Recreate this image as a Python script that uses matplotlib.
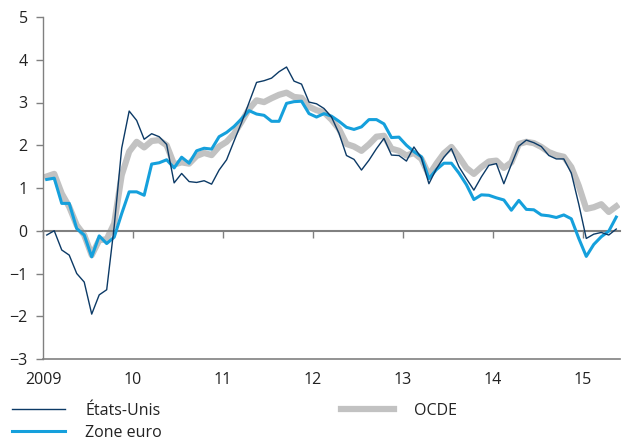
import numpy as np
import matplotlib
matplotlib.use("Agg")
import matplotlib.pyplot as plt
from matplotlib.lines import Line2D

plt.rcParams['font.family'] = ['Open Sans', 'DejaVu Sans']

# Monthly values, Jan 2009 .. May 2015
etats_unis = [
    -0.10, 0.00, -0.45, -0.57, -1.00, -1.20, -1.95, -1.50, -1.38, 0.10,
    1.93, 2.80, 2.58, 2.14, 2.27, 2.20, 2.02, 1.12, 1.34, 1.15,
    1.13, 1.17, 1.09, 1.42, 1.66, 2.10, 2.53, 3.00, 3.47, 3.51,
    3.57, 3.72, 3.83, 3.50, 3.43, 3.01, 2.97, 2.86, 2.66, 2.28,
    1.76, 1.67, 1.42, 1.65, 1.92, 2.16, 1.77, 1.76, 1.63, 1.96,
    1.70, 1.10, 1.45, 1.72, 1.92, 1.50, 1.22, 0.95, 1.26, 1.53,
    1.57, 1.10, 1.55, 1.98, 2.12, 2.06, 1.97, 1.76, 1.68, 1.68,
    1.35, 0.62, -0.18, -0.08, -0.04, -0.10, 0.04]

zone_euro = [
    1.20, 1.23, 0.64, 0.64, 0.05, -0.10, -0.61, -0.12, -0.30, -0.15,
    0.40, 0.91, 0.91, 0.83, 1.56, 1.59, 1.66, 1.47, 1.72, 1.58,
    1.87, 1.93, 1.91, 2.20, 2.30, 2.44, 2.62, 2.81, 2.73, 2.70,
    2.56, 2.56, 2.98, 3.02, 3.03, 2.74, 2.66, 2.74, 2.68, 2.56,
    2.42, 2.37, 2.43, 2.60, 2.60, 2.50, 2.18, 2.19, 2.00, 1.85,
    1.73, 1.22, 1.43, 1.58, 1.58, 1.35, 1.08, 0.73, 0.84, 0.83,
    0.77, 0.72, 0.48, 0.71, 0.50, 0.49, 0.37, 0.35, 0.31, 0.37,
    0.28, -0.18, -0.60, -0.32, -0.14, -0.01, 0.32]

ocde = [
    1.27, 1.33, 0.87, 0.56, 0.13, -0.10, -0.57, -0.22, -0.20, 0.17,
    1.30, 1.85, 2.08, 1.95, 2.10, 2.12, 2.00, 1.55, 1.60, 1.57,
    1.75, 1.82, 1.77, 1.97, 2.08, 2.27, 2.55, 2.85, 3.05, 3.01,
    3.10, 3.18, 3.23, 3.13, 3.11, 2.90, 2.82, 2.77, 2.60, 2.38,
    2.03, 1.97, 1.87, 2.02, 2.20, 2.22, 1.92, 1.87, 1.76, 1.82,
    1.68, 1.30, 1.57, 1.81, 1.96, 1.73, 1.47, 1.33, 1.49, 1.62,
    1.64, 1.47, 1.60, 2.03, 2.08, 2.05, 1.96, 1.84, 1.77, 1.73,
    1.49, 1.05, 0.51, 0.55, 0.62, 0.44, 0.57]

year_labels = ["2009", "10", "11", "12", "13", "14", "15"]
series_labels = ["États-Unis", "Zone euro", "OCDE"]

c_us = "#0c3a66"
c_eu = "#15a0dc"
c_oecd = "#c2c2c2"
c_axis = "#808080"

fig = plt.figure(figsize=(6.23, 4.45), dpi=100)
ax = fig.add_axes([43 / 623, 1 - 359 / 445, 577 / 623, 342 / 445])

x = np.arange(len(etats_unis)) + 0.5
ax.plot(x, ocde, color=c_oecd, lw=4.5, solid_joinstyle='round', zorder=2)
ax.plot(x, zone_euro, color=c_eu, lw=2.2, solid_joinstyle='round', zorder=3)
ax.plot(x, etats_unis, color=c_us, lw=1.0, zorder=4)

ax.set_xlim(0, 77)
ax.set_ylim(-3, 5)

ax.spines['right'].set_visible(False)
ax.spines['left'].set_color(c_axis)
ax.spines['left'].set_linewidth(1.0)
ax.spines['bottom'].set_color(c_axis)
ax.spines['bottom'].set_linewidth(1.2)
ax.spines['top'].set_position(('data', 0))
ax.spines['top'].set_color(c_axis)
ax.spines['top'].set_linewidth(1.5)

ax.set_yticks(range(-3, 6))
ax.tick_params(axis='y', direction='out', length=5, width=1, color=c_axis,
               labelsize=11.5, pad=6, labelcolor='#222222')

ticks = [12 * i for i in range(len(year_labels))]
ax.set_xticks(ticks)
ax.set_xticklabels(year_labels)
ax.tick_params(axis='x', bottom=False, top=True, labelbottom=True, labeltop=False,
               direction='in', length=5, width=1, color=c_axis,
               labelsize=11.5, pad=9, labelcolor='#222222')

h_us = Line2D([], [], color=c_us, lw=1.0)
h_eu = Line2D([], [], color=c_eu, lw=2.2)
h_oe = Line2D([], [], color=c_oecd, lw=4.5)
leg1 = fig.legend([h_us, h_eu], series_labels[:2], loc='upper left',
                  bbox_to_anchor=(12 / 623, 1 - 403 / 445), frameon=False,
                  borderpad=0, borderaxespad=0, handlelength=3.3, handletextpad=1.3,
                  labelspacing=0.35, fontsize=11.5)
leg2 = fig.legend([h_oe], series_labels[2:], loc='upper left',
                  bbox_to_anchor=(341 / 623, 1 - 403 / 445), frameon=False,
                  borderpad=0, borderaxespad=0, handlelength=3.3, handletextpad=1.3,
                  fontsize=11.5)
for lg in (leg1, leg2):
    for t in lg.get_texts():
        t.set_color('#222222')

fig.savefig("out.png", dpi=100)
